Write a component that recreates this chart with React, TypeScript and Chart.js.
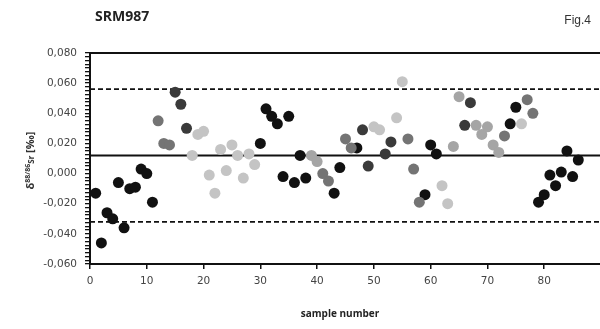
import React, { useEffect, useRef } from "react";
import { Chart, registerables } from "chart.js";

Chart.register(...registerables);

const sampleNumbers = [
  1, 2, 3, 4, 5, 6, 7, 8, 9, 10, 11, 12, 13, 14, 15, 16, 17, 18, 19, 20,
  21, 22, 23, 24, 25, 26, 27, 28, 29, 30, 31, 32, 33, 34, 35, 36, 37, 38, 39, 40,
  41, 42, 43, 44, 45, 46, 47, 48, 49, 50, 51, 52, 53, 54, 55, 56, 57, 58, 59, 60,
  61, 62, 63, 64, 65, 66, 67, 68, 69, 70, 71, 72, 73, 74, 75, 76, 77, 78, 79, 80,
  81, 82, 83, 84, 85, 86,
];

const deltaValues = [
  -0.013, -0.046, -0.026, -0.030, -0.006, -0.036, -0.010, -0.009, 0.003, 0.000,
  -0.019, 0.035, 0.020, 0.019, 0.054, 0.046, 0.030, 0.012, 0.026, 0.028,
  -0.001, -0.013, 0.016, 0.002, 0.019, 0.012, -0.003, 0.013, 0.006, 0.020,
  0.043, 0.038, 0.033, -0.002, 0.038, -0.006, 0.012, -0.003, 0.012, 0.008,
  0.000, -0.005, -0.013, 0.004, 0.023, 0.017, 0.017, 0.029, 0.005, 0.031,
  0.029, 0.013, 0.021, 0.037, 0.061, 0.023, 0.003, -0.019, -0.014, 0.019,
  0.013, -0.008, -0.020, 0.018, 0.051, 0.032, 0.047, 0.032, 0.026, 0.031,
  0.019, 0.014, 0.025, 0.033, 0.044, 0.033, 0.049, 0.040, -0.019, -0.014,
  -0.001, -0.008, 0.001, 0.015, -0.002, 0.009,
];

const blackGroup = [1, 2, 3, 4, 5, 6, 7, 8, 9, 10, 11, 30, 31, 32, 33, 34, 35, 36, 37, 38, 43, 44, 47, 59, 60, 61, 74, 75, 79, 80, 81, 82, 83, 84, 85, 86];
const darkGroup = [15, 16, 17, 48, 49, 52, 53, 66, 67];
const midGroup = [12, 13, 14, 41, 42, 45, 46, 56, 57, 58, 73, 77, 78];
const lightMidGroup = [39, 40, 64, 65, 68, 69, 70, 71, 72];
const lightGroup = [18, 19, 20, 21, 22, 23, 24, 25, 26, 27, 28, 29, 50, 51, 54, 55, 62, 63, 76];

const meanValue = 0.012;
const upperLimit = 0.056;
const lowerLimit = -0.032;

const xMin = 0;
const xMax = 90;
const yMin = -0.06;
const yMax = 0.08;

const groupData = (group: number[]) =>
  group.map((s) => ({ x: s, y: deltaValues[sampleNumbers.indexOf(s)] }));

const hLine = (v: number) => [
  { x: xMin, y: v },
  { x: xMax, y: v },
];

const FONT = "'DejaVu Sans', sans-serif";

const textPlugin = {
  id: "textPlugin",
  afterDraw(chart: any) {
    const ctx = chart.ctx;
    const area = chart.chartArea;
    ctx.save();
    ctx.strokeStyle = "#111";
    ctx.lineWidth = 2;
    ctx.beginPath();
    ctx.moveTo(area.left - 1, area.top);
    ctx.lineTo(area.right, area.top);
    ctx.stroke();

    ctx.fillStyle = "#222";
    ctx.font = `bold 14px 'Open Sans', sans-serif`;
    ctx.textAlign = "left";
    ctx.textBaseline = "alphabetic";
    ctx.fillText("SRM987", 95, 21);

    ctx.fillStyle = "#333";
    ctx.font = `12px 'Liberation Sans', sans-serif`;
    ctx.textAlign = "right";
    ctx.fillText("Fig.4", 591, 24);

    ctx.fillStyle = "#222";
    ctx.font = `bold 10px 'Open Sans', sans-serif`;
    ctx.textAlign = "center";
    ctx.fillText("sample number", 340, 317);

    const cy = (area.top + area.bottom) / 2 + 2;
    ctx.translate(30, cy);
    ctx.rotate(-Math.PI / 2);
    const parts = [
      { t: "δ", f: `bold 11px 'Open Sans', sans-serif`, dy: 0 },
      { t: "88/86", f: `bold 7px 'Open Sans', sans-serif`, dy: -4 },
      { t: "Sr", f: `bold 8px 'Open Sans', sans-serif`, dy: 0 },
      { t: " [‰]", f: `bold 11px 'Open Sans', sans-serif`, dy: 0 },
    ];
    let total = 0;
    for (const p of parts) {
      ctx.font = p.f;
      total += ctx.measureText(p.t).width;
    }
    let x = -total / 2;
    ctx.textAlign = "left";
    ctx.fillStyle = "#333";
    for (const p of parts) {
      ctx.font = p.f;
      ctx.fillText(p.t, x, 4 + p.dy);
      x += ctx.measureText(p.t).width;
    }
    ctx.restore();
  },
};

export default function App() {
  const canvasRef = useRef<HTMLCanvasElement | null>(null);

  useEffect(() => {
    if (!canvasRef.current) return;
    const point = (color: string, group: number[]) => ({
      type: "scatter" as const,
      data: groupData(group),
      backgroundColor: color,
      borderColor: color,
      borderWidth: 0,
      pointRadius: 5.5,
      order: 0,
    });
    const line = (v: number, dash: number[]) => ({
      type: "line" as const,
      data: hLine(v),
      borderColor: "#111",
      borderWidth: 1.8,
      borderDash: dash,
      pointRadius: 0,
      showLine: true,
      fill: false,
      order: 1,
    });

    const chart = new Chart(canvasRef.current, {
      type: "scatter",
      data: {
        datasets: [
          line(meanValue, []),
          line(upperLimit, [5, 3]),
          line(lowerLimit, [5, 3]),
          point("#c4c4c4", lightGroup),
          point("#a5a5a5", lightMidGroup),
          point("#747474", midGroup),
          point("#3a3a3a", darkGroup),
          point("#111111", blackGroup),
        ] as any,
      },
      options: {
        animation: false,
        responsive: false,
        devicePixelRatio: 1,
        layout: { padding: { top: 53, right: 0, left: 0, bottom: 0 } },
        plugins: {
          legend: { display: false },
          tooltip: { enabled: false },
          title: { display: false },
        },
        scales: {
          x: {
            type: "linear",
            min: xMin,
            max: xMax,
            afterFit: (scale: any) => {
              scale.height = 65;
            },
            ticks: {
              stepSize: 10,
              color: "#444",
              font: { family: FONT, size: 10.5 },
              padding: 6,
              maxRotation: 0,
              callback: (v: any) => (v >= xMax ? "" : String(v)),
            },
            grid: {
              display: true,
              drawOnChartArea: false,
              drawTicks: true,
              tickLength: 5,
              color: "#111",
              lineWidth: 1.5,
            },
            border: { display: true, color: "#111", width: 2 },
          },
          y: {
            type: "linear",
            min: yMin,
            max: yMax,
            afterFit: (scale: any) => {
              scale.width = 90;
            },
            ticks: {
              stepSize: 0.0025,
              autoSkip: false,
              color: "#444",
              font: { family: FONT, size: 10.5 },
              padding: 8,
              callback: (v: any) => {
                const r = v / 0.02;
                if (Math.abs(r - Math.round(r)) > 1e-6) return "";
                return Number(v).toFixed(3).replace(".", ",");
              },
            },
            grid: {
              display: true,
              drawOnChartArea: false,
              drawTicks: true,
              tickLength: 5,
              color: "#111",
              lineWidth: 1.3,
            },
            border: { display: true, color: "#111", width: 2 },
          },
        },
      },
      plugins: [textPlugin],
    });
    return () => chart.destroy();
  }, []);

  return (
    <div style={{ position: "fixed", left: 0, top: 0, width: 600, height: 329, overflow: "hidden", background: "#fff" }}>
      <canvas ref={canvasRef} width={607} height={329} style={{ width: 607, height: 329 }} />
    </div>
  );
}
